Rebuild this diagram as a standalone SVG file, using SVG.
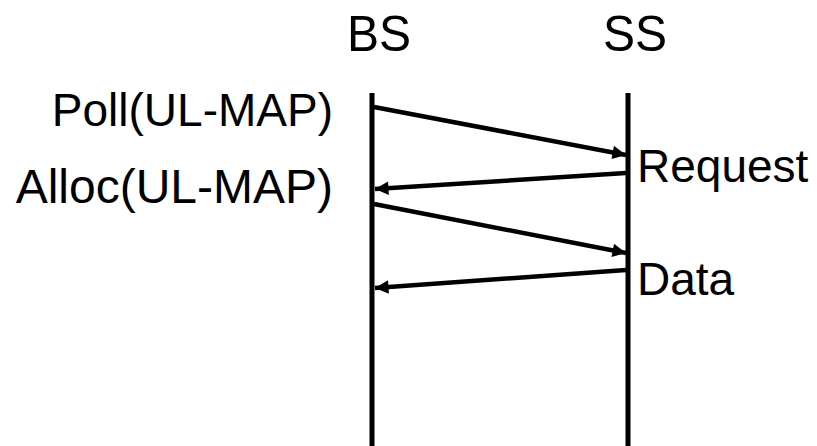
<svg xmlns="http://www.w3.org/2000/svg" width="817" height="446" viewBox="0 0 817 446">
  <style>
    .lbl { font-family: "Liberation Sans", Arial, sans-serif; font-size: 46px; fill: #000; }
    .head { font-size: 50px; }
    .life { stroke: #000; stroke-width: 5; fill: none; }
    .msg { stroke: #000; stroke-width: 4.5; fill: none; marker-end: url(#head); }
  </style>
  <defs>
    <marker id="head" viewBox="0 0 10 10" refX="10" refY="5" markerWidth="3.6" markerHeight="3" markerUnits="strokeWidth" orient="auto">
      <path d="M0,0 L10,5 L0,10 Z" fill="#000"/>
    </marker>
  </defs>
  <rect width="817" height="446" fill="#fff"/>

  <g id="bs">
    <text class="lbl head" x="347" y="51" textLength="64" lengthAdjust="spacingAndGlyphs">BS</text>
    <line class="life" x1="372" y1="93" x2="372" y2="446"/>
  </g>
  <g id="ss">
    <text class="lbl head" x="603" y="51" textLength="64" lengthAdjust="spacingAndGlyphs">SS</text>
    <line class="life" x1="628" y1="93" x2="628" y2="446"/>
  </g>

  <g id="labels">
    <text class="lbl" x="333" y="126" text-anchor="end">Poll(UL-MAP)</text>
    <text class="lbl" x="333" y="203" text-anchor="end" style="font-size:48px">Alloc(UL-MAP)</text>
    <text class="lbl" x="637" y="182">Request</text>
    <text class="lbl" x="637" y="295">Data</text>
  </g>

  <g id="connectors">
    <line class="msg" x1="374" y1="107" x2="626" y2="155"/>
    <line class="msg" x1="626" y1="173" x2="375" y2="189"/>
    <line class="msg" x1="374" y1="204" x2="626" y2="253"/>
    <line class="msg" x1="626" y1="270" x2="375" y2="288"/>
  </g>
</svg>
